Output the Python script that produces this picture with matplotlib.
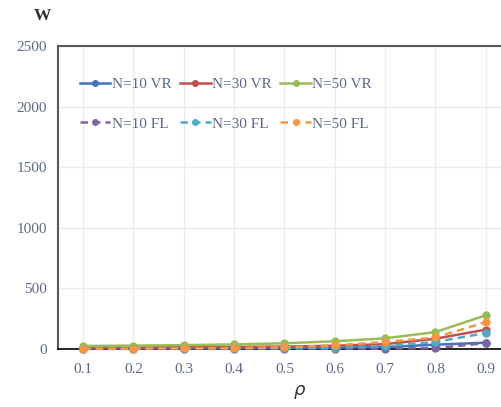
import matplotlib
matplotlib.use("Agg")
import matplotlib.pyplot as plt
import numpy as np

rho = ["0.1", "0.2", "0.3", "0.4", "0.5", "0.6", "0.7", "0.8", "0.9"]
vr10 = [5, 6, 7, 8, 10, 12, 16, 36, 52]
vr30 = [12, 13, 15, 17, 20, 27, 40, 85, 160]
vr50 = [25, 28, 32, 38, 47, 64, 88, 140, 278]
fl10 = [1, 1, 1, 1, 2, 2, 4, 8, 48]
fl30 = [3, 4, 5, 6, 8, 12, 24, 58, 132]
fl50 = [2, 3, 5, 8, 14, 30, 58, 95, 222]

yticks = [0, 500, 1000, 1500, 2000, 2500]

plt.rcParams['font.family'] = ['Liberation Serif', 'DejaVu Serif']

fig = plt.figure(figsize=(5.02, 4.07), dpi=100)
W, H = 502, 407
left, right, top, bottom = 58, 511, 46, 349
ax = fig.add_axes([left / W, 1 - bottom / H, (right - left) / W, (bottom - top) / H])

x = np.arange(len(rho))
series = [
    ("N=10 VR", vr10, "#4472C4", "-", "o", 5),
    ("N=30 VR", vr30, "#C0504D", "-", "o", 5),
    ("N=50 VR", vr50, "#9BBB59", "-", "o", 5),
    ("N=10 FL", fl10, "#8064A2", (0, (3, 2)), "o", 5),
    ("N=30 FL", fl30, "#4BACC6", (0, (3, 2)), "o", 5),
    ("N=50 FL", fl50, "#F79646", (0, (3, 2)), "o", 5),
]
handles = []
for lab, vals, c, ls, m, ms in series:
    h, = ax.plot(x, vals, color=c, linestyle=ls, linewidth=1.8, marker=m,
                 markersize=ms, label=lab, clip_on=False, zorder=3)
    handles.append(h)

ax.set_xlim(-0.5, len(rho) - 0.5)
ax.set_ylim(0, 2500)
ax.set_xticks(x)
ax.set_xticklabels(rho)
ax.set_yticks(yticks)
ax.set_yticklabels([str(v) for v in yticks])
ax.tick_params(axis='both', length=0, labelsize=11, colors='#5a6a85', pad=10)
ax.tick_params(axis='y', pad=8)
ax.grid(True, color='#ebebeb', linewidth=1)
ax.set_axisbelow(True)

for s in ['left', 'top']:
    ax.spines[s].set_color('#595959')
    ax.spines[s].set_linewidth(1.5)
ax.spines['right'].set_visible(False)
ax.spines['bottom'].set_color('black')
ax.spines['bottom'].set_linewidth(1.2)

order = [0, 3, 1, 4, 2, 5]
leg = ax.legend([handles[i] for i in order], [series[i][0] for i in order],
                ncol=3, loc='upper left', bbox_to_anchor=(0.018, 0.942),
                frameon=False, fontsize=11, handlelength=2.0, handletextpad=0.1,
                columnspacing=0.55, labelspacing=1.7, markerscale=0.8)
for t in leg.get_texts():
    t.set_color('#5a6a85')

fig.text(42 / W, 1 - 16 / H, "W", fontsize=12.5, fontweight='bold', color='#333333',
         ha='center', va='center')
fig.text(300 / W, 1 - 392 / H, r"$\rho$", fontsize=13, color='#333333',
         ha='center', va='center')

fig.savefig("out.png", dpi=100)
